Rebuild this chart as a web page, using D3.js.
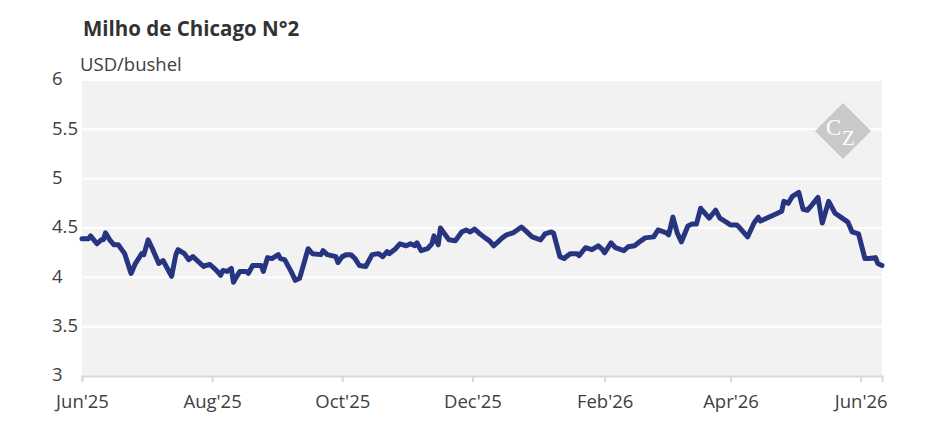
<!DOCTYPE html>
<html>
<head>
<meta charset="utf-8">
<script src="https://cdn.jsdelivr.net/npm/d3@7"></script>
<style>
  html, body { margin: 0; padding: 0; background: #fff; }
  svg { display: block; font-family: "Open Sans", sans-serif; }
</style>
</head>
<body>
<svg id="chart" width="945" height="443"></svg>
<script>
const title = "Milho de Chicago N°2";
const unitLabel = "USD/bushel";

const dates = [
  "2025-06-01","2025-06-04","2025-06-05","2025-06-08","2025-06-10","2025-06-11","2025-06-12","2025-06-14",
  "2025-06-16","2025-06-18","2025-06-21","2025-06-24","2025-06-26","2025-06-29","2025-06-30","2025-07-02",
  "2025-07-04","2025-07-07","2025-07-09","2025-07-13","2025-07-15","2025-07-16","2025-07-19","2025-07-21",
  "2025-07-23","2025-07-28","2025-07-29","2025-07-31","2025-08-03","2025-08-05","2025-08-06","2025-08-08",
  "2025-08-10","2025-08-11","2025-08-12","2025-08-14","2025-08-17","2025-08-18","2025-08-20","2025-08-22",
  "2025-08-24","2025-08-25","2025-08-27","2025-08-29","2025-09-01","2025-09-02","2025-09-04","2025-09-07",
  "2025-09-09","2025-09-11","2025-09-15","2025-09-17","2025-09-21","2025-09-22","2025-09-24","2025-09-28",
  "2025-09-29","2025-10-01","2025-10-03","2025-10-05","2025-10-07","2025-10-09","2025-10-12","2025-10-15",
  "2025-10-18","2025-10-20","2025-10-22","2025-10-23","2025-10-26","2025-10-28","2025-10-31","2025-11-02",
  "2025-11-04","2025-11-05","2025-11-07","2025-11-10","2025-11-12","2025-11-13","2025-11-15","2025-11-16",
  "2025-11-20","2025-11-23","2025-11-26","2025-11-28","2025-11-30","2025-12-02","2025-12-04","2025-12-07",
  "2025-12-09","2025-12-11","2025-12-13","2025-12-15","2025-12-17","2025-12-20","2025-12-24","2025-12-26",
  "2025-12-29","2026-01-02","2026-01-04","2026-01-07","2026-01-08","2026-01-11","2026-01-13","2026-01-14",
  "2026-01-16","2026-01-19","2026-01-20","2026-01-23","2026-01-26","2026-01-29","2026-01-31","2026-02-01",
  "2026-02-04","2026-02-06","2026-02-10","2026-02-12","2026-02-15","2026-02-18","2026-02-20","2026-02-24",
  "2026-02-26","2026-03-02","2026-03-03","2026-03-05","2026-03-07","2026-03-09","2026-03-12","2026-03-14",
  "2026-03-16","2026-03-18","2026-03-22","2026-03-25","2026-03-27","2026-03-30","2026-04-01","2026-04-04",
  "2026-04-05","2026-04-09","2026-04-12","2026-04-14","2026-04-15","2026-04-21","2026-04-22","2026-04-25",
  "2026-04-26","2026-04-28","2026-04-30","2026-05-03","2026-05-05","2026-05-07","2026-05-09","2026-05-12",
  "2026-05-14","2026-05-17","2026-05-20","2026-05-22","2026-05-26","2026-05-27","2026-05-28","2026-05-31",
  "2026-06-03","2026-06-05","2026-06-08","2026-06-09","2026-06-11"
];

const prices = [
  4.39,4.39,4.42,4.34,4.38,4.38,4.45,4.38,
  4.33,4.33,4.24,4.04,4.14,4.24,4.23,4.38,
  4.29,4.14,4.17,4.01,4.23,4.28,4.24,4.18,
  4.21,4.11,4.12,4.13,4.07,4.02,4.07,4.06,
  4.09,3.95,3.99,4.06,4.06,4.04,4.12,4.12,
  4.12,4.06,4.20,4.19,4.23,4.19,4.18,4.06,
  3.97,3.99,4.29,4.24,4.23,4.27,4.23,4.21,
  4.15,4.21,4.23,4.23,4.19,4.12,4.11,4.23,
  4.24,4.21,4.26,4.24,4.29,4.34,4.32,4.34,
  4.32,4.35,4.27,4.29,4.34,4.42,4.33,4.50,
  4.38,4.37,4.46,4.48,4.46,4.49,4.45,4.40,
  4.37,4.32,4.36,4.40,4.43,4.45,4.51,4.47,
  4.41,4.38,4.44,4.46,4.45,4.21,4.19,4.21,
  4.24,4.24,4.22,4.30,4.28,4.32,4.28,4.25,
  4.35,4.30,4.27,4.31,4.32,4.37,4.40,4.41,
  4.48,4.45,4.43,4.61,4.45,4.36,4.52,4.54,
  4.54,4.70,4.60,4.68,4.60,4.56,4.53,4.53,
  4.51,4.41,4.55,4.61,4.57,4.63,4.64,4.67,
  4.77,4.75,4.82,4.86,4.69,4.68,4.73,4.81,
  4.55,4.77,4.65,4.62,4.56,4.51,4.46,4.44,
  4.19,4.19,4.20,4.14,4.12
];

const yTicks = [3, 3.5, 4, 4.5, 5, 5.5, 6];
const xTickDates = ["2025-06-01","2025-08-01","2025-10-01","2025-12-01","2026-02-01","2026-04-01","2026-06-01"];
const xTickLabels = ["Jun'25","Aug'25","Oct'25","Dec'25","Feb'26","Apr'26","Jun'26"];
const xDomain = ["2025-06-01","2026-06-11"];
const yDomain = [3, 6];

const parse = d3.utcParse("%Y-%m-%d");
const data = dates.map((d, i) => ({ date: parse(d), value: prices[i] }));

const svg = d3.select("#chart");
const mLeft = 82, mRight = 882, mTop = 80, mBottom = 376;
const labelFont = 18.5;

const x = d3.scaleUtc().domain(xDomain.map(parse)).range([mLeft, mRight]);
const y = d3.scaleLinear().domain(yDomain).range([mBottom, mTop]);

// plot background
svg.append("rect")
  .attr("x", mLeft).attr("y", mTop)
  .attr("width", mRight - mLeft).attr("height", mBottom - mTop)
  .attr("fill", "#f2f2f2");

// gridlines
svg.append("g").selectAll("line")
  .data(yTicks.filter(t => t > yDomain[0]))
  .join("line")
  .attr("x1", mLeft).attr("x2", mRight)
  .attr("y1", d => y(d)).attr("y2", d => y(d))
  .attr("stroke", "#ffffff").attr("stroke-width", 2);

// watermark
const wm = svg.append("g").attr("transform", "translate(843,131)");
wm.append("polygon")
  .attr("points", "0,-28 28,0 0,28 -28,0")
  .attr("fill", "#c9c9c9");
const wmText = wm.append("text")
  .attr("font-family", "'Liberation Serif', 'DejaVu Serif', serif")
  .attr("fill", "#ffffff");
wmText.append("tspan").attr("x", -17).attr("y", 4).attr("font-size", 23).text("C");
wmText.append("tspan").attr("x", -1).attr("y", 14).attr("font-size", 21).text("Z");

// x axis
const xAxis = d3.axisBottom(x)
  .tickValues(xTickDates.map(parse))
  .tickFormat((d, i) => xTickLabels[i])
  .tickSize(6).tickPadding(13);
const gx = svg.append("g").attr("transform", `translate(0,${mBottom})`).call(xAxis);
gx.select(".domain").attr("stroke", "#d9d9d9").attr("stroke-width", 2);
gx.selectAll(".tick line").attr("stroke", "#d9d9d9").attr("stroke-width", 2);
gx.selectAll(".tick text").attr("font-size", labelFont).attr("fill", "#404040")
  .attr("font-family", "'Open Sans', sans-serif");

// y axis labels (left aligned)
svg.append("g").selectAll("text")
  .data(yTicks)
  .join("text")
  .attr("x", 52)
  .attr("y", d => y(d) - 1)
  .attr("dy", "0.35em")
  .attr("font-size", labelFont)
  .attr("fill", "#404040")
  .text(d => d3.format("")(d));

// line
const line = d3.line().x(d => x(d.date)).y(d => y(d.value)).curve(d3.curveLinear);
svg.append("path").datum(data)
  .attr("d", line)
  .attr("fill", "none")
  .attr("stroke", "#273580")
  .attr("stroke-width", 5)
  .attr("stroke-linejoin", "round")
  .attr("stroke-linecap", "round");

// titles
svg.append("text").attr("x", 83).attr("y", 36)
  .attr("font-size", 20.5).attr("font-weight", "bold").attr("fill", "#333333")
  .text(title);
svg.append("text").attr("x", 80).attr("y", 71)
  .attr("font-size", labelFont).attr("fill", "#404040")
  .text(unitLabel);
</script>
</body>
</html>
